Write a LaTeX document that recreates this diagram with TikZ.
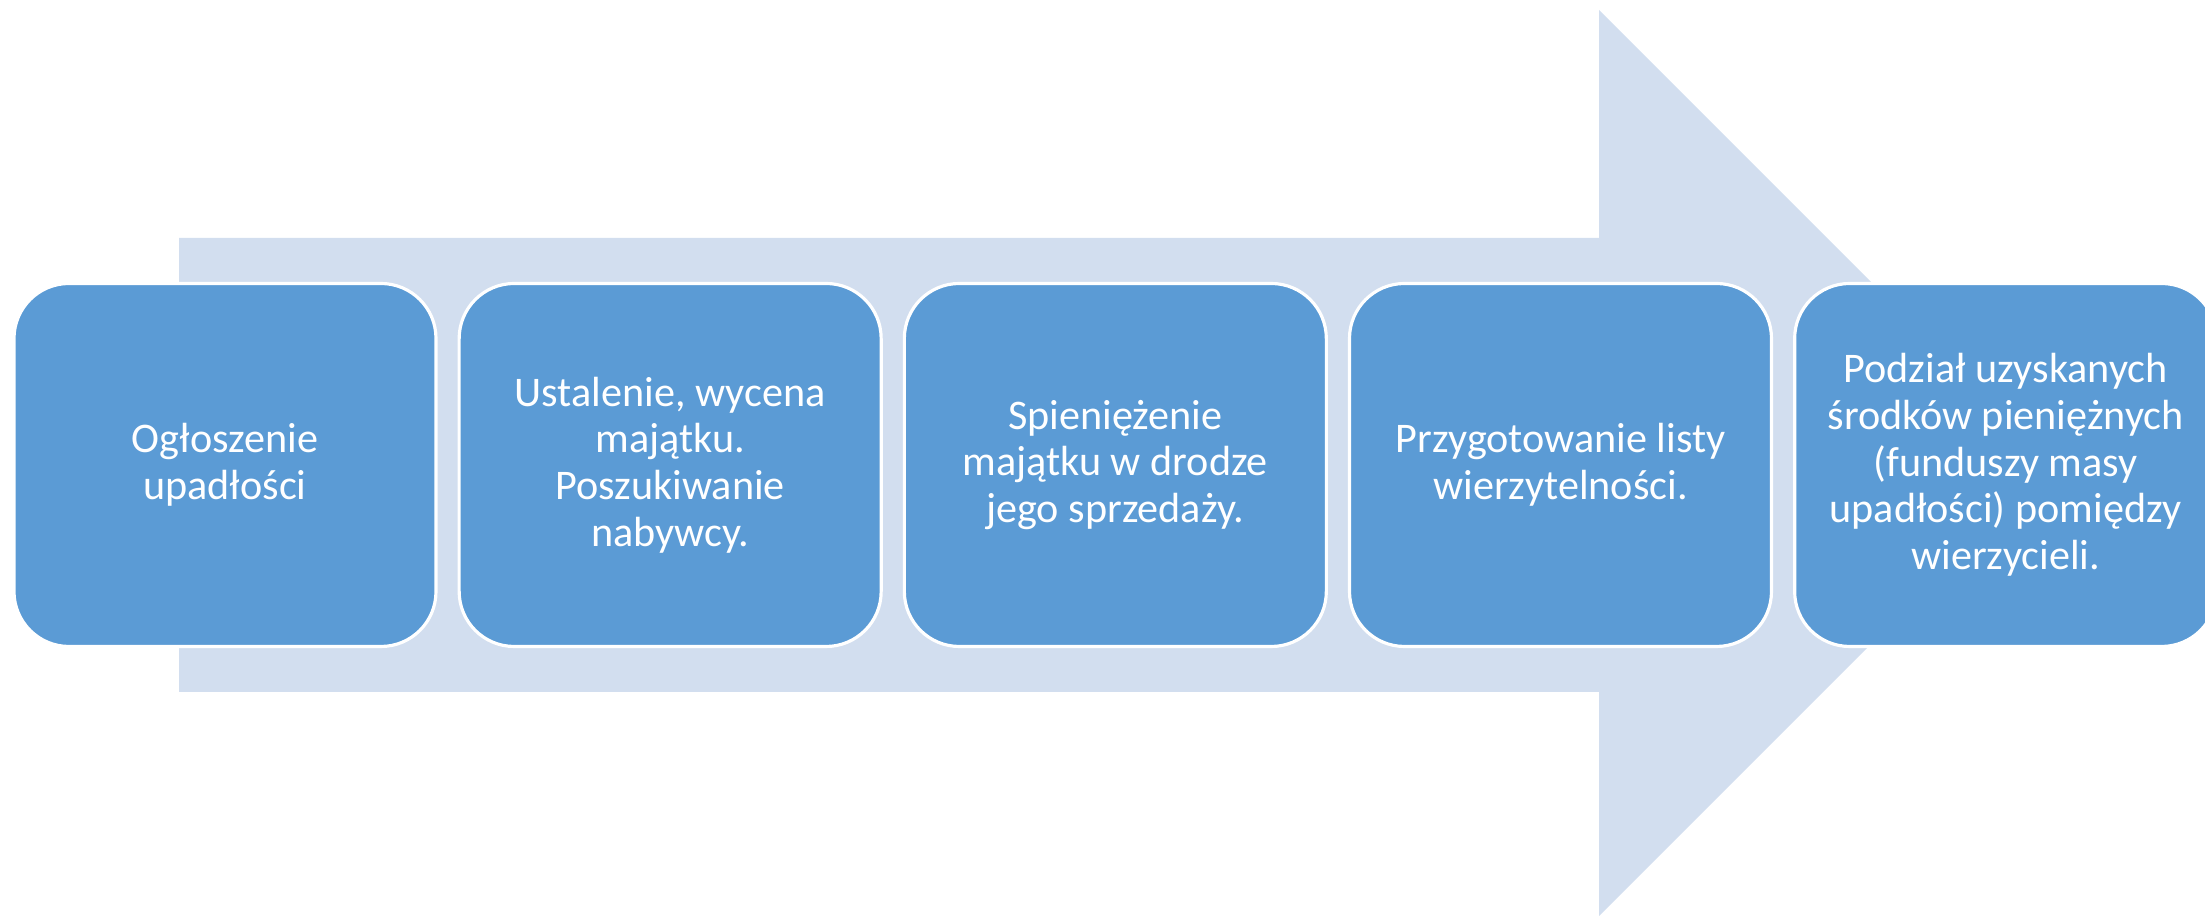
\documentclass[tikz,border=0pt]{standalone}
\usepackage{fontspec}
\setmainfont{Carlito}
\usetikzlibrary{positioning}
\definecolor{stageblue}{RGB}{91,155,213}
\definecolor{arrowblue}{RGB}{210,222,239}

\begin{document}
\begin{tikzpicture}[node distance=0.2cm, stage/.style={rectangle, rounded corners=0.55cm, draw=white, line width=0.9pt, fill=stageblue, text=white, minimum width=4.22cm, minimum height=3.63cm, align=center, font=\fontsize{12}{13.3}\selectfont}, ]

 \useasboundingbox (0,0) rectangle (22.05,9.19);

 % big arrow behind the steps
 \fill[arrowblue] (1.79,2.27) -- (1.79,6.81) -- (15.99,6.81) -- (15.99,9.09) -- (20.52,4.56) -- (15.99,0.03) -- (15.99,2.27) -- cycle;

 \node[stage] (s1) at (2.25,4.54) {Ogłoszenie\\upadłości};
 \node[stage, right=of s1] (s2) {Ustalenie, wycena\\majątku.\\Poszukiwanie\\nabywcy.};
 \node[stage, right=of s2] (s3) {Spieniężenie\\majątku w drodze\\jego sprzedaży.};
 \node[stage, right=of s3] (s4) {Przygotowanie listy\\wierzytelności.};
 \node[stage, right=of s4] (s5) {Podział uzyskanych\\środków pieniężnych\\(funduszy masy\\upadłości) pomiędzy\\wierzycieli.};

\end{tikzpicture}
\end{document}
